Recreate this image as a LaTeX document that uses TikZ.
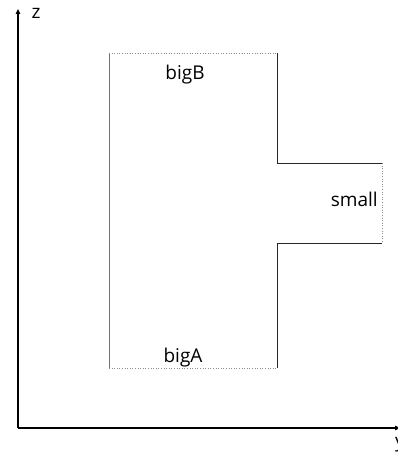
\documentclass[tikz,border=0pt]{standalone}
\usepackage{fontspec}
\setmainfont{Open Sans}
\usetikzlibrary{arrows.meta}
\begin{document}
\begin{tikzpicture}[x=1pt,y=-1pt,
  axis/.style={line width=1.1pt,-{Triangle[length=5pt,width=4.5pt]}},
  wall/.style={line width=0.8pt,black!85},
  sidewall/.style={line width=0.7pt,black!55},
  openend/.style={line width=0.6pt,black!45,dotted},
  lbl/.style={font=\fontsize{19}{22}\selectfont,inner sep=0pt}]
\useasboundingbox (0,0) rectangle (398,452);
% axes
\coordinate (o) at (18,428);
\coordinate (zt) at (18,9);
\coordinate (yt) at (400,428);
\draw[axis] (o) -- (zt);
\draw[axis] (o) -- (yt);
\node[lbl,anchor=base] (zl) at (36,19) {z};
\node[lbl,anchor=base west] (yl) at (395,447) {y};
% T-shaped domain corners
\coordinate (a1) at (109,53);
\coordinate (a2) at (277,53);
\coordinate (a3) at (277,163);
\coordinate (a4) at (382,163);
\coordinate (a5) at (382,243);
\coordinate (a6) at (277,243);
\coordinate (a7) at (277,368);
\coordinate (a8) at (109,368);
% solid walls
\draw[sidewall] (a1) -- (a8);
\draw[wall] (a2) -- (a3) -- (a4);
\draw[wall] (a5) -- (a6) -- (a7);
% open boundaries
\draw[openend] (a1) -- (a2);
\draw[openend] (a8) -- (a7);
\draw[openend] (a4) -- (a5);
% boundary labels
\node[lbl,anchor=base] (bigB) at (185,79) {bigB};
\node[lbl,anchor=base] (bigA) at (183,362) {bigA};
\node[lbl,anchor=base east] (small) at (378,206) {small};
\end{tikzpicture}
\end{document}
